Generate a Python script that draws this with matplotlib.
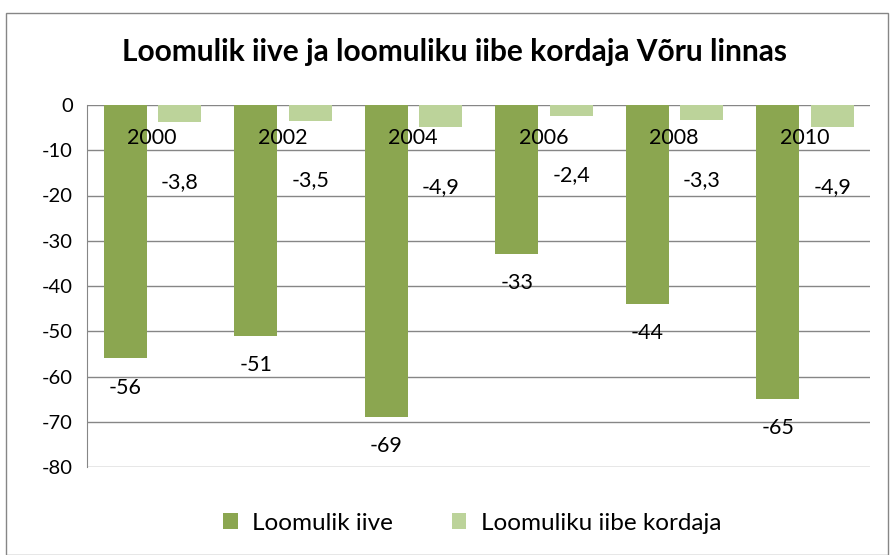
import matplotlib
matplotlib.use("Agg")
import matplotlib.pyplot as plt
from matplotlib.patches import Rectangle

years = ["2000", "2002", "2004", "2006", "2008", "2010"]
iive = [-56, -51, -69, -33, -44, -65]
kordaja = [-3.8, -3.5, -4.9, -2.4, -3.3, -4.9]
kordaja_labels = ["-3,8", "-3,5", "-4,9", "-2,4", "-3,3", "-4,9"]
yticks = [0, -10, -20, -30, -40, -50, -60, -70, -80]

plt.rcParams['font.family'] = ['Lato', 'DejaVu Sans']

W, H = 891, 555
fig = plt.figure(figsize=(W/100, H/100), dpi=100)
fig.patches.append(Rectangle((6/W, 0.5/H), (888-6)/W, (H-12-1)/H, transform=fig.transFigure,
                             fill=False, edgecolor='#868686', linewidth=1))

ax = fig.add_axes([87/W, 1-467/H, (870-87)/W, (467-105)/H])
dark = '#8BA650'
light = '#BCD39A'
bw = 0.33
x = list(range(len(years)))
ax.bar([i - 0.207 for i in x], iive, width=bw, color=dark, label='Loomulik iive', zorder=3)
ax.bar([i + 0.21 for i in x], kordaja, width=bw, color=light, label='Loomuliku iibe kordaja', zorder=3)

ax.set_xlim(-0.5, 5.5)
ax.set_ylim(-80, 0)
ax.set_yticks(yticks)
ax.set_yticklabels([str(v) for v in yticks], fontsize=14.5)
ax.tick_params(axis='y', length=0, pad=10)
ax.set_xticks([])
ax.grid(axis='y', color='#868686', linewidth=1, zorder=0)
for s in ['top', 'bottom', 'right']:
    ax.spines[s].set_visible(False)
ax.spines['left'].set_color('#868686')

fs = 15.5
for i, y in enumerate(years):
    ax.annotate(y, (i, 0), xytext=(0, -24), textcoords='offset points',
                ha='center', va='center', fontsize=fs, zorder=5)
for i, v in enumerate(iive):
    ax.annotate(str(v), (i - 0.207, v), xytext=(0, -21), textcoords='offset points',
                ha='center', va='center', fontsize=fs, zorder=5)
for i, v in enumerate(kordaja):
    ax.annotate(kordaja_labels[i], (i + 0.21, v), xytext=(0, -43), textcoords='offset points',
                ha='center', va='center', fontsize=fs, zorder=5)

fig.text(455/W, 1-52/H, 'Loomulik iive ja loomuliku iibe kordaja Võru linnas',
         ha='center', va='center', fontsize=21.5, fontweight='bold')

fig.legend(loc='center', bbox_to_anchor=(0.53, 1-523/H), ncol=2, frameon=False,
           fontsize=17.5, handlelength=0.6, handleheight=0.6, columnspacing=2.4, handletextpad=0.6)

fig.savefig('out.png', dpi=100)
